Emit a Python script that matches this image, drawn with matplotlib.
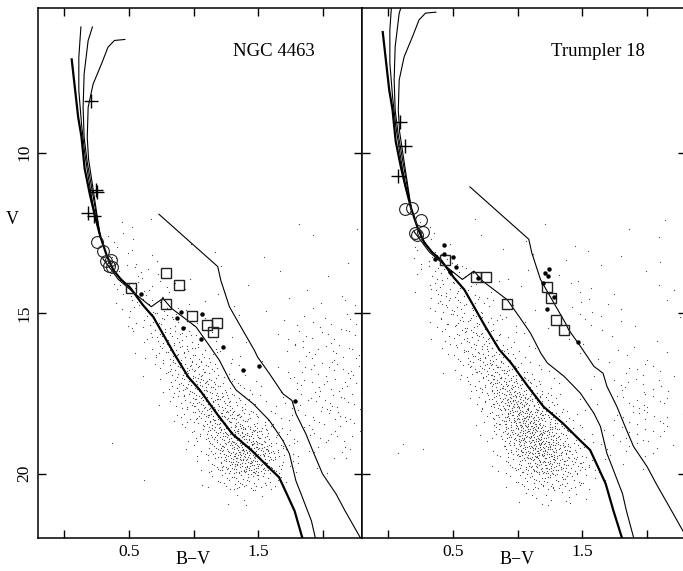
import numpy as np
import matplotlib
matplotlib.use("Agg")
import matplotlib.pyplot as plt
from matplotlib.ticker import FixedLocator, FixedFormatter

plt.rcParams['font.family'] = ['Liberation Serif', 'DejaVu Serif']

# ---------------- data ----------------
panel_names = ["NGC 4463", "Trumpler 18"]
# model-curve offsets for each cluster (colour, magnitude) relative to NGC 4463 frame
bv_shift = [0.0, -0.10]
v_shift = [0.0, -0.85]

# ZAMS (thick)
zams_bv = [0.06, 0.085, 0.11, 0.135, 0.16, 0.20, 0.235, 0.28, 0.33, 0.38, 0.44, 0.51, 0.61,
           0.69, 0.77, 0.85, 0.96, 1.05, 1.18, 1.30, 1.45, 1.58, 1.66, 1.72, 1.78, 1.84, 1.91]
zams_v = [7.1, 8.0, 8.9, 9.5, 10.5, 11.3, 11.9, 12.6, 13.2, 13.65, 13.95, 14.2, 14.75,
          15.12, 15.69, 16.26, 16.99, 17.4, 18.13, 18.76, 19.28, 19.8, 20.11, 20.63, 21.16, 22.0, 22.9]

# isochrones (thin, upper part)
iso_a_bv = [0.131, 0.115, 0.115, 0.136, 0.16, 0.19, 0.235, 0.28]
iso_a_v = [6.09, 7.03, 8.07, 9.12, 10.0, 10.8, 11.9, 12.6]
iso_b_bv = [0.22, 0.187, 0.156, 0.148, 0.156, 0.18, 0.21, 0.24, 0.28]
iso_b_v = [6.09, 6.51, 7.55, 8.59, 9.53, 10.3, 11.0, 11.7, 12.6]
iso_c_bv = [0.47, 0.39, 0.34, 0.29, 0.225, 0.187, 0.18, 0.19, 0.22, 0.25, 0.28]
iso_c_v = [6.48, 6.51, 6.72, 7.24, 7.87, 8.59, 9.53, 10.2, 11.0, 11.8, 12.6]

# binary / upper sequence (thin)
bin_bv = [0.30, 0.42, 0.55, 0.674, 0.764, 0.83, 1.02, 1.12, 1.20, 1.28, 1.33, 1.46, 1.585,
          1.69, 1.74, 1.79, 1.83, 1.91, 1.94, 2.0]
bin_v = [13.3, 13.95, 14.4, 14.8, 14.54, 14.85, 15.43, 16.0, 16.47, 17.1, 17.4, 17.82, 18.34,
         18.97, 19.38, 20.22, 20.63, 21.47, 22.0, 22.9]

# right-hand sequence (thin)
fld_bv = [0.733, 1.187, 1.21, 1.277, 1.38, 1.47, 1.495, 1.585, 1.69, 1.76, 1.79, 1.867,
          1.93, 1.995, 2.10, 2.17, 2.28, 2.40]
fld_v = [11.92, 13.55, 13.97, 14.8, 15.53, 16.16, 16.37, 16.88, 17.51, 17.72, 18.13, 18.76,
         19.38, 20.0, 20.63, 21.16, 21.94, 22.8]

# member stars
cross_bv = [[0.21, 0.25, 0.255, 0.184, 0.23], [0.092, 0.131, 0.075]]
cross_v = [[8.38, 11.18, 11.22, 11.88, 11.99], [9.04, 9.8, 10.74]]
circ_bv = [[0.259, 0.30, 0.328, 0.367, 0.348, 0.374], [0.131, 0.182, 0.259, 0.208, 0.272, 0.221]]
circ_v = [[12.80, 13.05, 13.38, 13.34, 13.52, 13.55], [11.76, 11.73, 12.11, 12.49, 12.46, 12.56]]
sq_bv = [[0.79, 0.89, 0.515, 0.79, 0.987, 1.105, 1.18, 1.15],
         [0.444, 0.68, 0.76, 0.918, 1.226, 1.26, 1.30, 1.36]]
sq_v = [[13.76, 14.13, 14.21, 14.7, 15.08, 15.38, 15.3, 15.6],
        [13.34, 13.86, 13.86, 14.73, 14.18, 14.54, 15.2, 15.53]]
dot_bv = [[0.592, 0.905, 1.067, 0.872, 0.918, 1.054, 1.226, 1.382, 1.508, 1.782],
          [0.43, 0.36, 0.43, 0.50, 0.528, 0.477, 0.695, 1.24, 1.215, 1.233, 1.20, 1.28, 1.23, 1.47]]
dot_v = [[14.4, 14.97, 15.02, 15.16, 15.46, 15.79, 16.04, 16.76, 16.63, 17.74],
         [12.88, 13.31, 13.15, 13.24, 13.55, 13.71, 13.9, 13.64, 13.76, 13.84, 14.05, 14.49, 14.88, 15.9]]

# field-star counts per cell: colour bins of 0.1 (-0.2..2.3), V bins of 0.5 (12..21)
bv_bin_lo = -0.2
bv_bin_w = 0.1
v_bin_lo = 12.0
v_bin_w = 0.5
field_left = [
    [0,0,0,0,0,0,1,1,1,0,0,0,0,0,0,0,0,0,0,0,1,0,0,0,1],
    [0,0,0,0,0,2,2,1,0,0,0,1,0,0,0,0,0,0,0,0,0,1,0,0,0],
    [0,0,0,0,0,2,2,2,1,1,0,0,0,1,0,0,0,1,0,0,0,0,0,1,0],
    [0,0,0,0,0,2,3,3,2,1,0,1,0,0,1,0,0,0,1,0,0,0,1,0,0],
    [0,0,0,0,0,1,4,5,4,3,2,1,0,1,0,0,1,0,0,0,1,0,0,1,1],
    [0,0,0,0,0,0,2,5,6,5,3,2,1,0,0,1,0,1,0,1,0,2,0,1,1],
    [0,0,0,0,0,0,1,3,6,8,6,4,2,1,0,1,0,0,1,0,2,2,2,2,2],
    [0,0,0,0,0,0,0,1,4,9,10,7,4,2,1,0,1,0,1,2,3,2,3,2,3],
    [0,0,0,0,0,0,0,1,2,7,12,12,8,4,2,1,0,1,0,2,3,3,3,3,3],
    [0,0,0,0,0,0,0,0,1,4,12,15,14,8,4,2,1,0,1,2,3,4,4,3,3],
    [0,0,0,0,0,0,0,0,0,2,8,15,18,14,8,4,2,1,1,2,3,4,4,4,3],
    [0,0,0,0,0,0,0,0,0,1,4,12,18,20,15,8,4,2,2,2,3,4,5,4,3],
    [0,0,0,0,0,0,0,0,0,0,2,6,14,22,24,18,10,5,3,2,3,4,4,4,3],
    [0,0,0,0,0,0,0,0,0,0,0,3,8,18,28,30,24,14,6,3,3,3,3,3,2],
    [0,0,0,0,0,1,0,0,0,0,0,1,4,12,26,34,34,26,12,4,2,2,2,2,2],
    [0,0,0,0,0,0,0,0,0,0,0,0,2,8,20,30,32,22,10,3,1,1,1,1,0],
    [0,0,0,0,0,0,0,0,1,0,0,0,1,3,8,12,12,8,3,1,0,0,0,0,0],
    [0,0,0,0,0,0,0,0,0,0,0,0,0,0,1,2,2,1,0,0,0,0,0,0,0],
]
field_right = [
    [0,0,0,0,1,1,0,0,1,0,0,0,0,0,1,0,0,0,0,0,1,0,0,1,0],
    [0,0,0,0,2,2,1,0,0,1,0,0,1,0,0,0,1,0,0,0,0,0,1,0,0],
    [0,0,0,0,3,4,3,1,0,0,1,0,0,1,0,1,0,1,0,1,0,0,0,1,0],
    [0,0,0,0,2,5,5,3,2,0,0,1,1,0,0,1,1,0,1,0,0,1,0,0,0],
    [0,0,0,0,1,5,7,6,4,2,1,0,1,0,0,0,2,1,0,1,0,0,1,0,1],
    [0,0,0,0,0,4,8,8,6,4,2,1,0,1,0,0,2,2,1,0,1,0,0,1,0],
    [0,0,0,0,0,2,6,9,9,7,4,2,1,0,1,0,1,2,1,1,0,1,0,0,1],
    [0,0,0,0,0,1,4,8,11,10,7,3,1,0,0,1,0,1,1,1,0,0,1,0,0],
    [0,0,0,0,0,0,2,6,12,14,11,6,3,1,0,0,1,0,1,1,1,2,0,1,0],
    [0,0,0,0,0,0,1,3,9,16,18,12,6,3,1,0,0,1,0,1,2,3,2,0,1],
    [0,0,0,0,0,0,0,1,5,12,22,24,16,8,3,1,0,1,0,2,3,3,2,2,0],
    [0,0,0,0,0,0,0,0,2,8,20,32,30,18,8,3,1,0,1,2,3,4,3,2,0],
    [0,0,0,0,0,0,0,0,1,4,14,30,38,32,16,7,3,1,0,2,3,4,3,2,1],
    [0,0,0,0,0,0,0,0,0,2,8,24,38,40,28,14,5,2,1,2,3,3,3,2,0],
    [0,0,1,1,1,0,0,0,0,0,4,14,30,40,36,22,10,4,2,1,2,2,2,1,0],
    [0,0,0,0,0,0,0,0,0,0,2,8,18,28,30,24,14,6,2,0,1,1,0,0,0],
    [0,0,0,0,0,0,0,0,0,0,0,3,8,12,14,12,8,4,1,0,0,0,0,0,0],
    [0,0,0,0,0,0,0,0,0,0,0,0,2,3,4,3,2,1,0,0,0,0,0,0,0],
]
field_grids = [field_left, field_right]

x_ticks = [0.0, 0.5, 1.0, 1.5, 2.0]
x_ticklabels = ["", "0.5", "", "1.5", ""]
y_ticks = [10, 15, 20]
y_ticklabels = ["10", "15", "20"]


# ---------------- helpers ----------------
def halton(i, b):
    f, r = 1.0, 0.0
    while i > 0:
        f /= b
        r += f * (i % b)
        i //= b
    return r


def cell_points(grid):
    xs, ys = [], []
    k = 1
    for r, row in enumerate(grid):
        for c, n in enumerate(row):
            for _ in range(n):
                xs.append(bv_bin_lo + bv_bin_w * (c + halton(k, 2)))
                ys.append(v_bin_lo + v_bin_w * (r + halton(k, 3)))
                k += 1
    return xs, ys


# ---------------- figure ----------------
W, H = 683, 571
fig = plt.figure(figsize=(W / 100, H / 100), dpi=100)


def frac(x0, y0, x1, y1):
    return [x0 / W, 1 - y1 / H, (x1 - x0) / W, (y1 - y0) / H]


axes = [fig.add_axes(frac(38, 8, 362, 538)), fig.add_axes(frac(362, 8, 686, 538))]

for p, ax in enumerate(axes):
    dbv, dv = bv_shift[p], v_shift[p]
    fx, fy = cell_points(field_grids[p])
    ax.scatter(fx, fy, s=0.8, c='#4a4a4a', linewidths=0, marker='o', zorder=1)

    def sh(bv, v):
        return np.asarray(bv) + dbv, np.asarray(v) + dv

    for bvs, vs in [(iso_a_bv, iso_a_v), (iso_b_bv, iso_b_v), (iso_c_bv, iso_c_v),
                    (bin_bv, bin_v), (fld_bv, fld_v)]:
        x, y = sh(bvs, vs)
        ax.plot(x, y, color='k', lw=0.8, zorder=2)
    x, y = sh(zams_bv, zams_v)
    ax.plot(x, y, color='k', lw=1.6, zorder=3)

    ax.plot(cross_bv[p], cross_v[p], ls='none', marker='+', ms=10, mew=1.0, color='k', zorder=4)
    ax.plot(circ_bv[p], circ_v[p], ls='none', marker='o', ms=8.5, mew=0.8,
            mfc='none', mec='#222222', zorder=4)
    ax.plot(sq_bv[p], sq_v[p], ls='none', marker='s', ms=7.5, mew=1.0,
            mfc='none', mec='#222222', zorder=4)
    ax.plot(dot_bv[p], dot_v[p], ls='none', marker='o', ms=3.2, mew=0,
            color='k', zorder=5)

    ax.set_xlim(-0.2, 2.3)
    ax.set_ylim(22.0, 5.5)
    ax.xaxis.set_major_locator(FixedLocator(x_ticks))
    ax.xaxis.set_major_formatter(FixedFormatter(x_ticklabels))
    ax.yaxis.set_major_locator(FixedLocator(y_ticks))
    if p == 0:
        ax.yaxis.set_major_formatter(FixedFormatter(y_ticklabels))
        ax.set_ylabel("V", rotation=0, fontsize=13)
        ax.yaxis.set_label_coords(-0.08, 0.585)
    else:
        ax.yaxis.set_major_formatter(FixedFormatter(["", "", ""]))
    ax.tick_params(direction='in', length=6, width=1.0, top=True, right=True,
                   labelsize=12.5, pad=4)
    for lab in ax.get_yticklabels():
        lab.set_rotation(90)
        lab.set_va('center')
    ax.set_xlabel("B\u2212V", fontsize=13)
    ax.xaxis.set_label_coords(0.48, -0.040, transform=ax.transAxes)
    ax.xaxis.label.set_va('center')
    for s in ax.spines.values():
        s.set_linewidth(1.1)
    ax.text(0.728, 0.917, panel_names[p], transform=ax.transAxes, ha='center',
            va='center', fontsize=13.5)

fig.savefig("out.png", dpi=100)
